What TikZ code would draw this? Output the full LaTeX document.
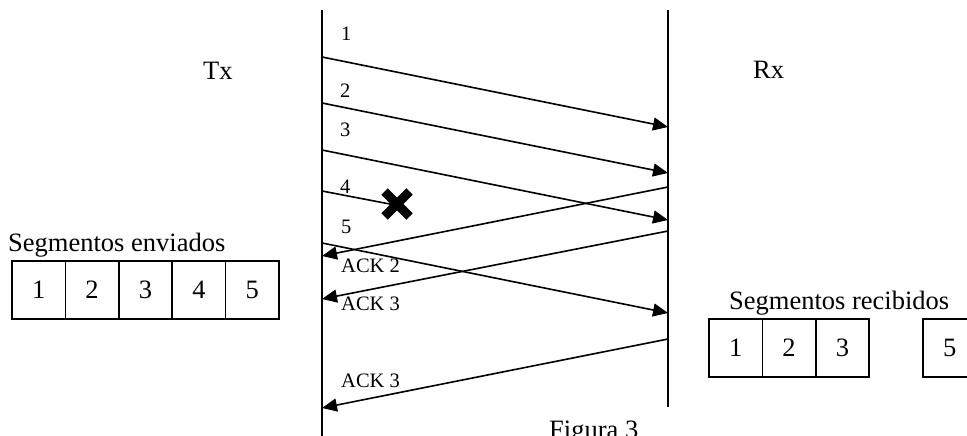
\documentclass[tikz,border=0pt]{standalone}
\usepackage{fontspec}
\setmainfont{Liberation Serif}
\usetikzlibrary{arrows.meta}
\begin{document}
\begin{tikzpicture}[x=1pt,y=-1pt,
  big/.style={font=\fontsize{26.5}{30}\selectfont, inner sep=0pt},
  small/.style={font=\fontsize{20.5}{24}\selectfont, inner sep=0pt, anchor=base west},
  tline/.style={line width=1.6pt},
  msg/.style={line width=1.6pt, -{Triangle[length=15pt,width=13pt]}},
  cell/.style={draw, line width=1.6pt, outer sep=0pt, minimum width=53.4pt, minimum height=58pt, inner sep=0pt, font=\fontsize{26.5}{30}\selectfont}]
\useasboundingbox (0,0) rectangle (967,436);
\clip (0,0) rectangle (967,436);
% timelines
\coordinate (ltop) at (322,10);
\coordinate (lbot) at (322,440);
\coordinate (rtop) at (668,10);
\coordinate (rbot) at (668,407);
\draw[tline] (ltop) -- (lbot);
\draw[tline] (rtop) -- (rbot);
% labels Tx Rx
\node[big, anchor=base west] (tx) at (203,80) {Tx};
\node[big, anchor=base west] (rx) at (753,79) {Rx};
% segment arrows
\coordinate (s1) at (322,57);  \coordinate (e1) at (668,127);
\coordinate (s2) at (322,103); \coordinate (e2) at (668,173);
\coordinate (s3) at (322,150); \coordinate (e3) at (668,220);
\coordinate (s4) at (322,191); \coordinate (e4) at (395,205);
\coordinate (s5) at (322,243); \coordinate (e5) at (668,313);
\draw[msg] (s1) -- (e1);
\draw[msg] (s2) -- (e2);
\draw[msg] (s3) -- (e3);
\draw[line width=1.6pt] (s4) -- (e4);
\draw[msg] (s5) -- (e5);
\node[small] (n1) at (341,40.5) {1};
\node[small] (n2) at (340,98) {2};
\node[small] (n3) at (340,136) {3};
\node[small] (n4) at (340,193) {4};
\node[small] (n5) at (341,233) {5};
% lost mark
\coordinate (xm) at (397,204);
\draw[line width=9pt] ([shift={(-12.5,-12.5)}]xm) -- ([shift={(12.5,12.5)}]xm);
\draw[line width=9pt] ([shift={(-12.5,12.5)}]xm) -- ([shift={(12.5,-12.5)}]xm);
% acks
\coordinate (a1s) at (668,187); \coordinate (a1e) at (322,256);
\coordinate (a2s) at (668,231); \coordinate (a2e) at (322,299);
\coordinate (a3s) at (668,339); \coordinate (a3e) at (322,408);
\draw[msg] (a1s) -- (a1e);
\draw[msg] (a2s) -- (a2e);
\draw[msg] (a3s) -- (a3e);
\node[small] (k1) at (341,272.5) {ACK 2};
\node[small] (k2) at (341,310) {ACK 3};
\node[small] (k3) at (341,387) {ACK 3};
% sent segments
\node[big, anchor=base west] (env) at (8,251) {Segmentos enviados};
\node[cell, anchor=north west] (c1) at (12,261) {1};
\node[cell, anchor=west] (c2) at (c1.east) {2};
\node[cell, anchor=west] (c3) at (c2.east) {3};
\node[cell, anchor=west] (c4) at (c3.east) {4};
\node[cell, anchor=west] (c5) at (c4.east) {5};
% received segments
\node[big, anchor=base west] (rec) at (729,309) {Segmentos recibidos};
\node[cell, anchor=north west] (d1) at (709,319) {1};
\node[cell, anchor=west] (d2) at (d1.east) {2};
\node[cell, anchor=west] (d3) at (d2.east) {3};
\node[cell, anchor=north west] (d5) at (923,319) {5};
% caption
\node[big, anchor=base west] (fig) at (549,438) {Figura 3};
\end{tikzpicture}
\end{document}
